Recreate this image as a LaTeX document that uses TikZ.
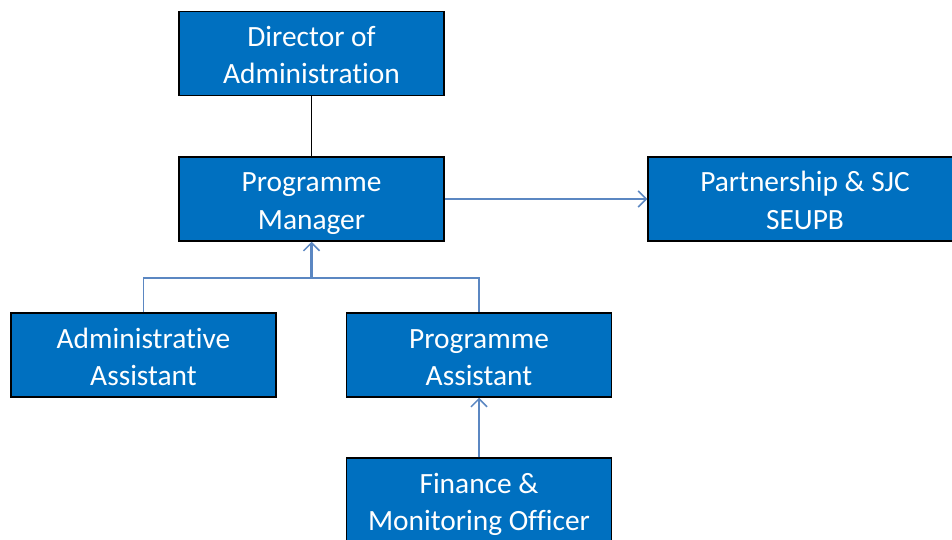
\documentclass[tikz,border=0pt]{standalone}
\usepackage{fontspec}
\setmainfont[Ligatures=NoCommon]{Carlito}
\usetikzlibrary{arrows.meta}
\definecolor{boxblue}{HTML}{0070C0}
\definecolor{linkblue}{HTML}{5B87C2}
% two-line box label with fixed line metrics
\newcommand\orgtext[2]{\rule{0pt}{32pt}#1\\#2\rule[-9pt]{0pt}{9pt}}
\begin{document}
\begin{tikzpicture}[x=1pt,y=-1pt,
  orgbox/.style={draw=black,line width=1.5pt,fill=boxblue,text=white,
    minimum width=265pt,minimum height=84pt,inner sep=0pt,align=center,
    font=\fontsize{29.4}{37}\selectfont},
  link/.style={draw=linkblue,line width=1.5pt},
  tip/.style={-{Straight Barb[length=8pt,width=16pt,line width=1.5pt]}}]
\useasboundingbox (0,0) rectangle (952,540);
\clip (0,0) rectangle (952,540);
\node[orgbox] (dir) at (311.5,53.5) {\orgtext{Director of}{Administration}};
\node[orgbox] (pm) at (311.5,199) {\orgtext{Programme}{Manager}};
\node[orgbox,minimum width=314pt] (part) at (805,199) {\orgtext{Partnership \& SJC}{SEUPB}};
\node[orgbox] (adm) at (143.5,355) {\orgtext{Administrative}{Assistant}};
\node[orgbox] (pa) at (479,355) {\orgtext{Programme}{Assistant}};
\node[orgbox] (fin) at (479,500) {\orgtext{Finance \&}{Monitoring Officer}};
\coordinate (join) at (311.5,278);
\draw[line width=1.5pt] (dir.south) -- (pm.north);
\draw[link,tip] (pm.east) -- (part.west);
\draw[link] (adm.north) |- (join) -| (pa.north);
\draw[link,line width=2.2pt,tip] (join) -- (pm.south);
\draw[link,tip] (fin.north) -- (pa.south);
\end{tikzpicture}
\end{document}
